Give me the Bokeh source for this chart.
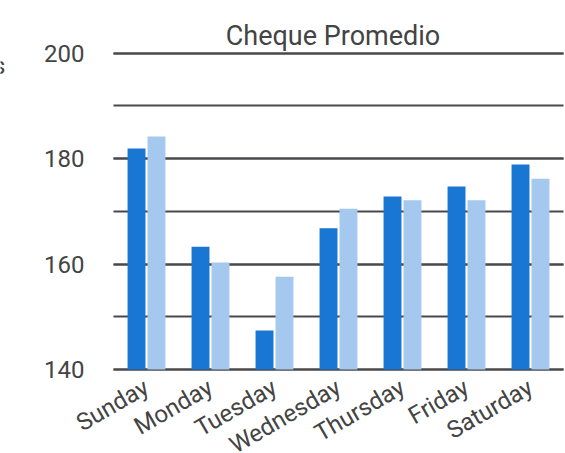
import math
from bokeh.plotting import figure
from bokeh.models import ColumnDataSource, Range1d, SingleIntervalTicker, FixedTicker, Label
from bokeh.embed import file_html
from bokeh.resources import INLINE

days = ["Sunday", "Monday", "Tuesday", "Wednesday", "Thursday", "Friday", "Saturday"]
series_a = [181.9, 163.3, 147.4, 166.8, 172.8, 174.7, 178.9]
series_b = [184.2, 160.3, 157.6, 170.5, 172.1, 172.1, 176.2]
y_min, y_max = 140, 200
y_ticks_interval = 20
title_text = "Cheque Promedio"
cut_text = "s"

DARK = "#1976D2"
LIGHT = "#A4C8EE"
GRID = "#48484d"
TEXT = "#444444"
FONT = "Roboto"

idx = list(range(len(days)))
offset = 0.156
bar_w = 0.28
source = ColumnDataSource(dict(
    xa=[i - offset for i in idx], xb=[i + offset for i in idx],
    a=series_a, b=series_b))

# the frame spans the whole canvas; axes sit at fixed locations inside it
p = figure(
    x_range=Range1d(-2.28125, 6.546875), y_range=Range1d(124.07, 209.99),
    width=565, height=453, output_backend="svg", toolbar_location=None,
    min_border=0, min_border_left=0, min_border_right=0,
    min_border_top=0, min_border_bottom=0,
)
p.outline_line_color = None
p.background_fill_color = "white"
p.border_fill_color = "white"

p.vbar(x="xa", top="a", bottom=y_min, width=bar_w, source=source,
       fill_color=DARK, line_color=None)
p.vbar(x="xb", top="b", bottom=y_min, width=bar_w, source=source,
       fill_color=LIGHT, line_color=None)

# value axis
yax = p.yaxis[0]
yax.ticker = SingleIntervalTicker(interval=y_ticks_interval, num_minor_ticks=2)
yax.bounds = (y_min, y_max)
yax.fixed_location = -0.5
yax.axis_line_color = None
yax.major_tick_line_color = None
yax.minor_tick_line_color = None
yax.major_label_text_font = FONT
yax.major_label_text_color = TEXT
yax.major_label_text_font_size = "24px"
yax.major_label_standoff = 24

# category axis
xax = p.xaxis[0]
xax.ticker = FixedTicker(ticks=idx)
xax.major_label_overrides = {i: d for i, d in zip(idx, days)}
xax.bounds = (-0.5, len(days) - 0.5)
xax.fixed_location = y_min
xax.axis_line_color = None
xax.major_tick_line_color = None
xax.minor_tick_line_color = None
xax.major_label_text_font = FONT
xax.major_label_text_color = TEXT
xax.major_label_text_font_size = "24px"
xax.major_label_orientation = math.pi / 6
xax.major_label_standoff = 10

p.ygrid.ticker = yax.ticker
p.ygrid.bounds = (y_min, y_max)
p.ygrid.cross_bounds = (-0.52, len(days) - 0.48)
p.ygrid.grid_line_color = GRID
p.ygrid.grid_line_width = 2
p.ygrid.minor_grid_line_color = GRID
p.ygrid.minor_grid_line_width = 2
p.xgrid.grid_line_color = None

p.add_layout(Label(x=2.914, y=203.2, text=title_text, text_font=FONT, text_font_size="27px",
                   text_color=TEXT, text_align="center", text_baseline="alphabetic"))
p.add_layout(Label(x=-2.203, y=197.66, text=cut_text, text_font=FONT, text_font_size="24px",
                   text_color=TEXT, text_align="right", text_baseline="alphabetic"))

open("out.html", "w").write(file_html(p, INLINE))
